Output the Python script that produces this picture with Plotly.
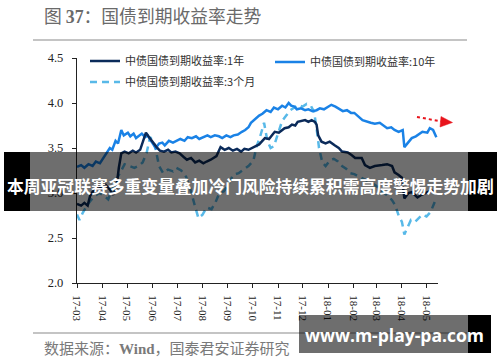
import plotly.graph_objects as go

# ---------------- data ----------------
dates_1y = ["2017-03-01","2017-03-06","2017-03-10","2017-03-14","2017-03-17","2017-03-22","2017-03-27","2017-03-31",
            "2017-04-05","2017-04-10","2017-04-14","2017-04-18","2017-04-21","2017-04-24","2017-04-28","2017-05-03",
            "2017-05-08","2017-05-12","2017-05-17","2017-05-20","2017-05-24","2017-05-27","2017-05-31","2017-06-06",
            "2017-06-10","2017-06-15","2017-06-20","2017-06-24","2017-06-29","2017-07-04","2017-07-09","2017-07-13",
            "2017-07-18","2017-07-23","2017-07-28","2017-08-02","2017-08-06","2017-08-11","2017-08-18","2017-08-23",
            "2017-08-28","2017-09-02","2017-09-07","2017-09-12","2017-09-17","2017-09-21","2017-09-26","2017-10-02",
            "2017-10-09","2017-10-16","2017-10-21","2017-10-28","2017-11-02","2017-11-09","2017-11-14","2017-11-18",
            "2017-11-22","2017-11-25","2017-11-30","2017-12-04","2017-12-08","2017-12-12","2017-12-16","2017-12-18",
            "2017-12-20","2017-12-24","2017-12-29","2018-01-03","2018-01-09","2018-01-14","2018-01-18","2018-01-25",
            "2018-01-30","2018-02-03","2018-02-11","2018-02-15","2018-02-21","2018-02-27","2018-03-08","2018-03-14",
            "2018-03-20","2018-03-23","2018-03-28","2018-04-01","2018-04-04","2018-04-09","2018-04-13","2018-04-17",
            "2018-04-20","2018-04-25","2018-05-02","2018-05-07","2018-05-12"]
yield_1y = [2.88,2.86,2.89,2.86,2.97,3.04,3.08,3.05,
            3.09,3.04,2.98,3.06,3.28,3.44,3.46,3.44,
            3.47,3.45,3.48,3.56,3.67,3.63,3.58,3.51,
            3.47,3.46,3.48,3.45,3.46,3.44,3.40,3.37,
            3.39,3.34,3.36,3.33,3.35,3.37,3.41,3.51,
            3.48,3.50,3.47,3.49,3.46,3.49,3.48,3.51,
            3.54,3.61,3.60,3.68,3.67,3.72,3.73,3.76,
            3.75,3.79,3.80,3.81,3.79,3.81,3.79,3.76,
            3.64,3.57,3.55,3.57,3.53,3.50,3.46,3.45,
            3.42,3.39,3.39,3.31,3.28,3.30,3.31,3.32,
            3.30,3.23,3.20,3.17,2.94,3.00,3.01,2.97,
            2.95,2.98,3.01,3.03,3.00]

dates_10y = ["2017-03-01","2017-03-06","2017-03-10","2017-03-15","2017-03-20","2017-03-24","2017-03-29","2017-04-03",
             "2017-04-06","2017-04-10","2017-04-13","2017-04-17","2017-04-20","2017-04-24","2017-04-27","2017-05-02",
             "2017-05-05","2017-05-09","2017-05-12","2017-05-16","2017-05-19","2017-05-23","2017-05-26","2017-05-31",
             "2017-06-05","2017-06-09","2017-06-13","2017-06-16","2017-06-21","2017-06-26","2017-06-30","2017-07-05",
             "2017-07-10","2017-07-14","2017-07-19","2017-07-24","2017-07-28","2017-08-02","2017-08-07","2017-08-11",
             "2017-08-16","2017-08-21","2017-08-25","2017-08-30","2017-09-04","2017-09-08","2017-09-13","2017-09-18",
             "2017-09-22","2017-09-26","2017-09-29","2017-10-09","2017-10-13","2017-10-18","2017-10-23","2017-10-27",
             "2017-11-01","2017-11-06","2017-11-10","2017-11-14","2017-11-17","2017-11-21","2017-11-24","2017-11-29",
             "2017-12-04","2017-12-08","2017-12-13","2017-12-18","2017-12-22","2017-12-27","2018-01-02","2018-01-05",
             "2018-01-10","2018-01-15","2018-01-19","2018-01-24","2018-01-29","2018-02-02","2018-02-07","2018-02-12",
             "2018-02-22","2018-02-27","2018-03-05","2018-03-09","2018-03-14","2018-03-19","2018-03-23","2018-03-28",
             "2018-04-02","2018-04-04","2018-04-09","2018-04-13","2018-04-18","2018-04-23","2018-04-26","2018-05-02",
             "2018-05-05","2018-05-09","2018-05-13"]
yield_10y = [3.29,3.31,3.28,3.32,3.30,3.35,3.33,3.40,
             3.44,3.50,3.48,3.58,3.55,3.70,3.64,3.67,
             3.63,3.66,3.61,3.64,3.66,3.62,3.64,3.57,
             3.50,3.55,3.56,3.53,3.58,3.56,3.58,3.60,
             3.58,3.62,3.61,3.63,3.60,3.62,3.64,3.62,
             3.64,3.63,3.61,3.64,3.62,3.64,3.65,3.68,
             3.70,3.73,3.78,3.86,3.88,3.92,3.90,3.95,
             3.93,3.97,3.95,4.00,3.97,3.96,3.93,3.94,
             3.92,3.93,3.91,3.92,3.94,3.93,3.96,3.98,
             3.96,3.93,3.91,3.92,3.89,3.89,3.85,3.81,
             3.78,3.77,3.78,3.75,3.72,3.73,3.70,3.68,
             3.70,3.51,3.57,3.61,3.63,3.66,3.68,3.67,
             3.72,3.70,3.62]

dates_3m = ["2017-03-01","2017-03-04","2017-03-08","2017-03-13","2017-03-18","2017-03-23","2017-03-28","2017-04-03",
            "2017-04-08","2017-04-13","2017-04-18","2017-04-24","2017-04-28","2017-05-04","2017-05-10","2017-05-15",
            "2017-05-20","2017-05-25","2017-05-29","2017-06-02","2017-06-05","2017-06-09","2017-06-14","2017-06-20",
            "2017-06-26","2017-06-30","2017-07-06","2017-07-12","2017-07-17","2017-07-22","2017-07-27","2017-08-01",
            "2017-08-06","2017-08-12","2017-08-17","2017-08-21","2017-08-27","2017-09-02","2017-09-07","2017-09-14",
            "2017-09-20","2017-09-26","2017-10-02","2017-10-06","2017-10-10","2017-10-15","2017-10-19","2017-10-23",
            "2017-10-27","2017-11-01","2017-11-06","2017-11-11","2017-11-16","2017-11-21","2017-11-26","2017-12-01",
            "2017-12-06","2017-12-11","2017-12-15","2017-12-18","2017-12-21","2017-12-25","2017-12-29","2018-01-03",
            "2018-01-08","2018-01-13","2018-01-18","2018-01-23","2018-01-28","2018-02-02","2018-02-08","2018-02-15",
            "2018-02-21","2018-02-27","2018-03-05","2018-03-10","2018-03-15","2018-03-20","2018-03-24","2018-03-28",
            "2018-04-01","2018-04-04","2018-04-08","2018-04-12","2018-04-17","2018-04-21","2018-04-26","2018-05-01",
            "2018-05-06","2018-05-11"]
yield_3m = [2.76,2.70,2.78,2.86,2.92,2.97,3.00,2.97,
            2.93,3.05,3.15,3.25,3.32,3.30,3.28,3.30,
            3.34,3.45,3.62,3.58,3.48,3.30,3.22,3.26,
            3.24,3.28,3.25,3.18,3.05,2.88,2.72,2.76,
            2.84,2.82,2.90,2.99,3.02,3.10,3.20,3.22,
            3.26,3.30,3.36,3.52,3.62,3.78,3.58,3.50,
            3.52,3.66,3.80,3.86,3.92,3.95,3.98,3.96,
            3.99,3.97,3.90,3.72,3.50,3.34,3.30,3.36,
            3.38,3.35,3.30,3.27,3.22,3.21,3.18,3.15,
            3.12,3.09,3.05,3.00,2.97,2.92,2.86,2.75,
            2.68,2.54,2.62,2.70,2.68,2.72,2.76,2.74,
            2.79,2.90]

names = ["中债国债到期收益率:1年", "中债国债到期收益率:10年", "中债国债到期收益率:3个月"]
y_ticks = [2.0, 2.5, 3.0, 3.5, 4.0, 4.5]
x_tick_dates = ["2017-03-01","2017-04-01","2017-05-01","2017-06-01","2017-07-01","2017-08-01","2017-09-01",
                "2017-10-01","2017-11-01","2017-12-01","2018-01-01","2018-02-01","2018-03-01","2018-04-01","2018-05-01"]
x_tick_labels = ["17-03","17-04","17-05","17-06","17-07","17-08","17-09","17-10","17-11","17-12",
                 "18-01","18-02","18-03","18-04","18-05"]
x_range = ["2017-03-01", "2018-05-15"]
title_text = "图 <span style='font-family:Liberation Serif'><b>37</b></span>：国债到期收益率走势"
source_text = "数据来源：<span style='font-family:Liberation Serif'><b>Wind</b></span>，国泰君安证券研究"
banner_text = "本周亚冠联赛多重变量叠加冷门风险持续累积需高度警惕走势加剧"
watermark_text = "www.m-play-pa.com"

# ---------------- layout geometry (pixels) ----------------
W, H = 500, 362
L, R, T, B = 77, 438, 58, 283

def px(x):
    return (x - L) / (R - L)

def py(y):
    return (B - y) / (B - T)

C1Y = "#0b2b5a"
C10Y = "#1a82e6"
C3M = "#58b9e8"

fig = go.Figure()
fig.add_trace(go.Scatter(x=dates_3m, y=yield_3m, mode="lines", name=names[2], legend="legend3",
                         line=dict(color=C3M, width=2.5, dash="7px,5px")))
fig.add_trace(go.Scatter(x=dates_10y, y=yield_10y, mode="lines", name=names[1], legend="legend2",
                         line=dict(color=C10Y, width=2.5)))
fig.add_trace(go.Scatter(x=dates_1y, y=yield_1y, mode="lines", name=names[0], legend="legend",
                         line=dict(color=C1Y, width=2.5)))

legend_font = dict(family="Noto Sans CJK SC", size=11, color="#333333")
def leg(xp, yp):
    return dict(x=px(xp), y=py(yp), xanchor="left", yanchor="middle", bgcolor="rgba(0,0,0,0)",
                font=legend_font, itemwidth=30, borderwidth=0)

shapes = [
    # top and bottom rules
    dict(type="line", xref="paper", yref="paper", x0=px(33), x1=px(467), y0=py(40), y1=py(40),
         line=dict(color="#8a8a8a", width=1.2)),
    dict(type="line", xref="paper", yref="paper", x0=px(33), x1=px(467), y0=py(333), y1=py(333),
         line=dict(color="#8a8a8a", width=1.2)),
    # red dotted arrow
    dict(type="line", xref="paper", yref="paper", x0=px(417), x1=px(442), y0=py(117), y1=py(121.5),
         line=dict(color="#e8141c", width=2, dash="dot"), layer="above"),
    dict(type="path", xref="paper", yref="paper",
         path=f"M {px(441)} {py(116.5)} L {px(452.5)} {py(122.5)} L {px(440)} {py(127)} Z",
         fillcolor="#e8141c", line=dict(color="#e8141c", width=0.5), layer="above"),
    # banner overlay
    dict(type="rect", xref="paper", yref="paper", x0=px(4), x1=px(30), y0=py(211), y1=py(152),
         fillcolor="#000000", line=dict(width=0), layer="above"),
    dict(type="rect", xref="paper", yref="paper", x0=px(30), x1=px(468), y0=py(211), y1=py(152),
         fillcolor="rgba(0,0,0,0.57)", line=dict(width=0), layer="above"),
    dict(type="rect", xref="paper", yref="paper", x0=px(468), x1=px(497), y0=py(211), y1=py(152),
         fillcolor="#000000", line=dict(width=0), layer="above"),
    # watermark overlay
    dict(type="rect", xref="paper", yref="paper", x0=px(299), x1=px(468), y0=py(353), y1=py(315),
         fillcolor="rgba(0,0,0,0.57)", line=dict(width=0), layer="above"),
    dict(type="rect", xref="paper", yref="paper", x0=px(468), x1=px(491), y0=py(353), y1=py(315),
         fillcolor="#000000", line=dict(width=0), layer="above"),
]

annotations = [
    dict(text=title_text, xref="paper", yref="paper", x=px(42), y=py(15), xanchor="left", yanchor="middle",
         showarrow=False, font=dict(family="Noto Sans CJK SC", size=17.8, color="#6a6a6a")),
    dict(text=source_text, xref="paper", yref="paper", x=px(42), y=py(348), xanchor="left", yanchor="middle",
         showarrow=False, font=dict(family="Noto Sans CJK SC", size=15, color="#7a7a7a")),
    dict(text="<b>" + banner_text + "</b>", xref="paper", yref="paper", x=px(250.5), y=py(186),
         xanchor="center", yanchor="middle", showarrow=False,
         font=dict(family="Noto Sans CJK SC", size=16.8, color="#ffffff")),
    dict(text="<b>" + watermark_text + "</b>", xref="paper", yref="paper", x=px(394.5), y=py(335),
         xanchor="center", yanchor="middle", showarrow=False,
         font=dict(family="Open Sans", size=17.5, color="#ffffff")),
]

fig.update_layout(
    width=W, height=H, autosize=False,
    margin=dict(l=L, r=W - R, t=T, b=H - B, pad=0),
    paper_bgcolor="#ffffff", plot_bgcolor="#ffffff",
    showlegend=True,
    legend=leg(85, 61),
    legend2=leg(270, 62),
    legend3=leg(85, 82),
    shapes=shapes,
    annotations=annotations,
    xaxis=dict(type="date", range=x_range, tickvals=x_tick_dates, ticktext=x_tick_labels,
               tickangle=90, ticks="outside", ticklen=4, tickcolor="#222", showgrid=False, zeroline=False,
               showline=True, linecolor="#222", linewidth=1.3,
               tickfont=dict(family="Liberation Serif", size=11, color="#222"), ticklabelstandoff=5),
    yaxis=dict(range=[2.0, 4.5], tickvals=y_ticks, tickformat=".1f", ticks="outside", ticklen=4,
               tickcolor="#222", showgrid=False, zeroline=False, showline=True, linecolor="#222", linewidth=1.3,
               tickfont=dict(family="Liberation Serif", size=12.5, color="#222"), ticklabelstandoff=6),
)

# remove the browser's default 8px body margin so the figure sits at the page origin; hide the modebar
fig.write_html("out.html", config={"displayModeBar": False},
               post_script="document.body.style.margin='0px';")
